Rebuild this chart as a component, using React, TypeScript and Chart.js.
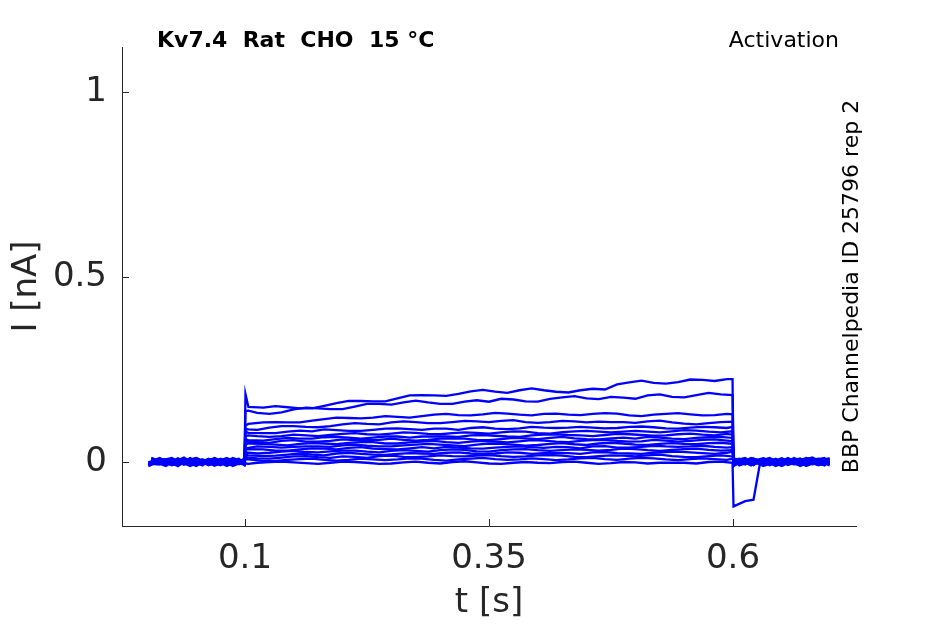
import { useEffect, useRef } from 'react';
import { Chart, registerables, type Plugin } from 'chart.js';

Chart.register(...registerables);

// sample times [s] of the two acquisition grids (holding | test step | tail)
const holdTimesA = [0.001, 0.0125, 0.025, 0.0375, 0.05, 0.0625, 0.075, 0.0875, 0.0995];
const stepTimesA = [
  0.1005, 0.1035, 0.1125, 0.125, 0.1375, 0.15, 0.1625, 0.175, 0.1875, 0.2,
  0.2125, 0.225, 0.2375, 0.25, 0.2625, 0.275, 0.2875, 0.3, 0.3125, 0.325,
  0.3375, 0.35, 0.3625, 0.375, 0.3875, 0.4, 0.4125, 0.425, 0.4375, 0.45,
  0.4625, 0.475, 0.4875, 0.5, 0.5125, 0.525, 0.5375, 0.55, 0.5625, 0.575,
  0.5875, 0.5995,
];
const tailTimesA = [0.6005, 0.6125, 0.621, 0.628, 0.6375, 0.65, 0.6625, 0.675, 0.6875, 0.699];

const holdTimesB = [0.004, 0.01875, 0.03125, 0.04375, 0.05625, 0.06875, 0.08125, 0.09375, 0.0995];
const stepTimesB = [
  0.1005, 0.1035, 0.11875, 0.13125, 0.14375, 0.15625, 0.16875, 0.18125, 0.19375, 0.20625,
  0.21875, 0.23125, 0.24375, 0.25625, 0.26875, 0.28125, 0.29375, 0.30625, 0.31875, 0.33125,
  0.34375, 0.35625, 0.36875, 0.38125, 0.39375, 0.40625, 0.41875, 0.43125, 0.44375, 0.45625,
  0.46875, 0.48125, 0.49375, 0.50625, 0.51875, 0.53125, 0.54375, 0.55625, 0.56875, 0.58125,
  0.59375, 0.5995,
];
const tailTimesB = [0.6005, 0.6065, 0.6185, 0.631, 0.64375, 0.65625, 0.66875, 0.68125, 0.69375, 0.6985];

// sweep currents in pA (holding 9 | step 42 | tail 10)
const sweep01 = [
  6, -9, 10, -4, 7, -10, 2, 9, -5,
  184, 149, 147, 151, 148, 145, 145, 152, 159, 165, 165, 164, 164, 172, 180, 181, 180, 179, 184, 191,
  195, 190, 187, 194, 199, 194, 190, 188, 194, 198, 196, 210, 215, 220, 214, 212, 216, 223, 222, 219, 224, 224,
  7, -6, 10, -4, 9, -8, 3, 12, -6, 2,
];
const sweep02 = [
  -8, 9, -3, 12, -9, 4, -6, 7, 1,
  138, 139, 133, 130, 134, 142, 147, 145, 143, 143, 150, 157, 157, 155, 161, 166, 161, 157, 157, 163,
  167, 163, 171, 169, 164, 163, 171, 175, 178, 172, 170, 176, 174, 171, 180, 183, 176, 175, 181, 187, 183, 181,
  -4, 9, -8, 5, -2, 10, -6, 3, 9, -4,
];
const sweep03 = [
  10, -2, 5, -11, 3, 9, -7, 0, 7,
  99, 103, 107, 108, 107, 107, 112, 116, 120, 119, 118, 120, 124, 122, 120, 124, 128, 130, 127, 126,
  129, 133, 131, 128, 126, 130, 131, 128, 127, 130, 132, 131, 126, 124, 128, 130, 132, 129, 126, 127, 130, 129,
  5, -9, 2, 10, -4, 6, -9, 7, -2, 5,
];
const sweep04 = [
  -6, 7, -9, 2, 11, -4, 5, -9, 3,
  89, 88, 87, 93, 97, 97, 95, 94, 97, 102, 105, 103, 102, 107, 110, 108, 105, 105, 108, 111,
  110, 108, 111, 113, 108, 106, 108, 111, 110, 107, 109, 108, 108, 106, 110, 112, 107, 104, 102, 105, 108, 109,
  9, 0, -8, 4, 11, -6, 2, -7, 5, 10,
];
const sweep05 = [
  4, -11, 7, 5, -6, 10, -9, 3, -2,
  82, 79, 78, 78, 82, 85, 83, 88, 86, 84, 84, 87, 90, 91, 89, 87, 90, 90, 87, 92,
  94, 90, 89, 91, 95, 93, 92, 93, 95, 93, 91, 92, 95, 96, 94, 91, 90, 93, 95, 94, 92, 95,
  -6, 7, 3, -9, 5, 2, 9, -4, -8, 4,
];
const sweep06 = [
  -9, 3, 11, -7, 2, -6, 9, -2, 5,
  70, 72, 70, 68, 70, 74, 72, 70, 73, 76, 78, 75, 74, 77, 80, 79, 76, 75, 78, 80,
  79, 77, 80, 83, 82, 78, 77, 81, 83, 84, 82, 80, 82, 84, 82, 80, 83, 86, 85, 82, 80, 83,
  2, -7, 9, 0, -6, 7, -2, 11, 3, -9,
];
const sweep07 = [
  7, -4, -9, 9, -2, 6, -11, 5, -4,
  61, 59, 58, 62, 65, 63, 63, 67, 68, 66, 63, 66, 69, 69, 66, 69, 69, 69, 68, 72,
  73, 71, 69, 68, 72, 74, 75, 73, 72, 70, 73, 76, 75, 73, 71, 72, 75, 77, 74, 72, 76, 74,
  -9, 4, -2, 7, -11, 3, 9, -6, 0, 7,
];
const sweep08 = [
  -2, 11, -6, 3, -11, 7, 0, -7, 9,
  51, 55, 54, 52, 57, 59, 55, 55, 57, 61, 59, 59, 60, 63, 60, 58, 60, 63, 64, 63,
  60, 59, 62, 65, 64, 62, 65, 68, 64, 62, 61, 64, 66, 63, 68, 66, 63, 62, 65, 67, 68, 65,
  11, -4, 5, -7, 2, -11, 6, 2, -9, 4,
];
const sweep09 = [
  9, -6, 2, -9, 7, -2, 11, -4, -7,
  47, 50, 49, 47, 45, 49, 51, 50, 48, 52, 54, 54, 50, 50, 53, 55, 57, 54, 52, 55,
  57, 55, 53, 56, 59, 58, 55, 54, 57, 59, 60, 57, 55, 56, 60, 58, 55, 57, 60, 61, 58, 56,
  -2, 6, -9, 9, 3, -4, -7, 9, 5, -6,
];
const sweep10 = [
  -11, 2, 7, -4, -7, 9, -6, 11, 0,
  36, 38, 42, 41, 39, 41, 42, 42, 41, 45, 47, 44, 42, 42, 45, 47, 49, 47, 45, 43,
  47, 50, 49, 47, 44, 46, 49, 51, 48, 46, 50, 52, 50, 47, 46, 49, 51, 49, 48, 51, 52, 49,
  4, 11, -6, -2, 7, -9, 11, -2, -6, 7,
];
const sweep11 = [
  2, 7, -11, 11, -4, -7, 3, -6, 10,
  34, 35, 34, 31, 31, 34, 37, 36, 34, 38, 40, 36, 35, 34, 37, 40, 37, 41, 39, 37,
  36, 39, 41, 42, 40, 38, 41, 40, 37, 42, 43, 39, 39, 41, 44, 42, 41, 42, 44, 41, 39, 40,
  -7, 2, 7, -11, 0, 9, -4, 5, 11, -2,
];
const sweep12 = [
  -4, -7, 9, -2, 5, 2, -9, 7, -6,
  27, 25, 23, 25, 28, 30, 27, 26, 29, 31, 31, 28, 26, 30, 32, 30, 28, 32, 34, 33,
  29, 28, 32, 34, 35, 32, 30, 32, 34, 33, 31, 33, 36, 35, 32, 30, 33, 35, 36, 33, 31, 32,
  9, -2, -4, 5, -9, 3, 7, -11, 2, 9,
];
const sweep13 = [
  5, 3, -6, 7, -9, 11, -2, -4, 7,
  20, 18, 16, 17, 20, 23, 20, 18, 23, 25, 22, 20, 19, 22, 24, 23, 22, 25, 26, 23,
  21, 23, 26, 25, 22, 24, 24, 24, 22, 26, 27, 24, 23, 22, 25, 27, 28, 26, 24, 22, 25, 28,
  0, -6, 11, 2, -7, 11, -4, 3, -9, 5,
];
const sweep14 = [
  -6, 9, 3, -7, 11, -4, 7, -11, 2,
  14, 12, 10, 9, 12, 15, 16, 13, 11, 15, 14, 11, 16, 17, 14, 13, 15, 18, 16, 15,
  17, 19, 16, 14, 15, 18, 19, 17, 14, 13, 16, 18, 17, 15, 18, 20, 16, 14, 13, 16, 18, 15,
  -11, 7, 0, -4, 9, -2, 5, -7, 7, -4,
];
const sweep15 = [
  11, -4, 0, 5, -6, 7, -4, 2, -9,
  8, 7, 3, 3, 6, 8, 9, 6, 4, 6, 9, 7, 5, 7, 10, 9, 6, 4, 7, 9,
  11, 8, 6, 7, 10, 8, 5, 7, 10, 11, 8, 6, 9, 11, 10, 7, 5, 8, 10, 8, 6, 9,
  5, 9, -7, 3, -2, 7, -11, 2, 3, -7,
];
const sweep16 = [
  0, 5, -7, -2, 9, -9, 3, 5, -4,
  -4, -5, -2, 0, 1, -1, -3, -5, -2, 1, 0, -2, -5, -4, -1, 1, -2, -4, 0, 2,
  -1, -4, -5, -2, 0, -2, -3, 0, 1, -2, -5, -3, 0, -1, -4, -2, -2, -2, -4, 0, 1, -2,
  -120, -106, -102, 2, -5, 9, -2, 7, -4, 5,
];

const sweeps = [
  sweep01, sweep02, sweep03, sweep04, sweep05, sweep06, sweep07, sweep08,
  sweep09, sweep10, sweep11, sweep12, sweep13, sweep14, sweep15, sweep16,
];

const xTicks = [0.1, 0.35, 0.6];
const xTickLabels = ['0.1', '0.35', '0.6'];
const yTicks = [0, 0.5, 1];
const yTickLabels = ['0', '0.5', '1'];

const titleText = 'Kv7.4  Rat  CHO  15 °C';
const protocolText = 'Activation';
const sourceText = 'BBP Channelpedia ID 25796 rep 2';

const axisColor = '#262626';
const font = 'DejaVu Sans';

// inward tick marks + the three annotation texts
const decorations: Plugin<'line'> = {
  id: 'decorations',
  afterDraw(chart) {
    const { ctx, chartArea, scales } = chart;
    ctx.save();
    ctx.strokeStyle = axisColor;
    ctx.lineWidth = 1;
    ctx.beginPath();
    xTicks.forEach((v) => {
      const px = Math.round(scales.x.getPixelForValue(v)) + 0.5;
      ctx.moveTo(px, chartArea.bottom);
      ctx.lineTo(px, chartArea.bottom - 7);
    });
    yTicks.forEach((v) => {
      const py = Math.round(scales.y.getPixelForValue(v)) + 0.5;
      ctx.moveTo(chartArea.left, py);
      ctx.lineTo(chartArea.left + 7, py);
    });
    ctx.stroke();

    ctx.fillStyle = '#000';
    ctx.textBaseline = 'alphabetic';
    ctx.font = `bold 22px "${font}"`;
    ctx.textAlign = 'left';
    ctx.fillText(titleText, 157, 47);

    ctx.font = `22px "${font}"`;
    ctx.textAlign = 'right';
    ctx.fillText(protocolText, 839, 47);

    ctx.translate(858, (chartArea.top + chartArea.bottom) / 2);
    ctx.rotate(-Math.PI / 2);
    ctx.textAlign = 'center';
    ctx.fillText(sourceText, 0, 0);
    ctx.restore();
  },
};

const App = () => {
  const canvasRef = useRef<HTMLCanvasElement>(null);

  useEffect(() => {
    if (!canvasRef.current) return;
    const gridA = [...holdTimesA, ...stepTimesA, ...tailTimesA];
    const gridB = [...holdTimesB, ...stepTimesB, ...tailTimesB];

    const chart = new Chart(canvasRef.current, {
      type: 'line',
      data: {
        datasets: sweeps.map((sweep, k) => {
          const times = k % 2 === 1 ? gridA : gridB;
          return {
            data: sweep.map((pA, i) => ({ x: times[i], y: pA / 1000 })),
            borderColor: '#0000ff',
            borderWidth: 2.3,
            pointRadius: 0,
            fill: false,
            tension: 0,
          };
        }),
      },
      options: {
        responsive: false,
        animation: false,
        events: [],
        layout: { padding: { left: 0, right: 89, top: 47, bottom: 0 } },
        plugins: { legend: { display: false }, tooltip: { enabled: false } },
        scales: {
          x: {
            type: 'linear',
            min: -0.026,
            max: 0.726,
            afterFit: (scale) => { scale.height = 98; },
            afterBuildTicks: (scale) => { scale.ticks = xTicks.map((value) => ({ value })); },
            grid: { display: false, drawTicks: false },
            border: { display: true, color: axisColor, width: 1 },
            ticks: {
              padding: 13,
              color: axisColor,
              font: { family: font, size: 34 },
              maxRotation: 0,
              callback: (_v, i) => xTickLabels[i],
            },
            title: {
              display: true,
              text: 't [s]',
              color: axisColor,
              font: { family: font, size: 34 },
              padding: { top: 0, bottom: 0 },
            },
          },
          y: {
            type: 'linear',
            min: -0.173,
            max: 1.122,
            afterFit: (scale) => { scale.width = 122; },
            afterBuildTicks: (scale) => { scale.ticks = yTicks.map((value) => ({ value })); },
            grid: { display: false, drawTicks: false },
            border: { display: true, color: axisColor, width: 1 },
            ticks: {
              padding: 15,
              color: axisColor,
              font: { family: font, size: 34 },
              callback: (_v, i) => yTickLabels[i],
            },
            title: {
              display: true,
              text: 'I [nA]',
              color: axisColor,
              font: { family: font, size: 34 },
              padding: { top: 7, bottom: 0 },
            },
          },
        },
      },
      plugins: [decorations],
    });

    return () => chart.destroy();
  }, []);

  return (
    <div style={{ position: 'absolute', left: 0, top: 0, width: 945, height: 624, background: '#fff' }}>
      <canvas ref={canvasRef} width={945} height={624} />
    </div>
  );
};

export default App;
